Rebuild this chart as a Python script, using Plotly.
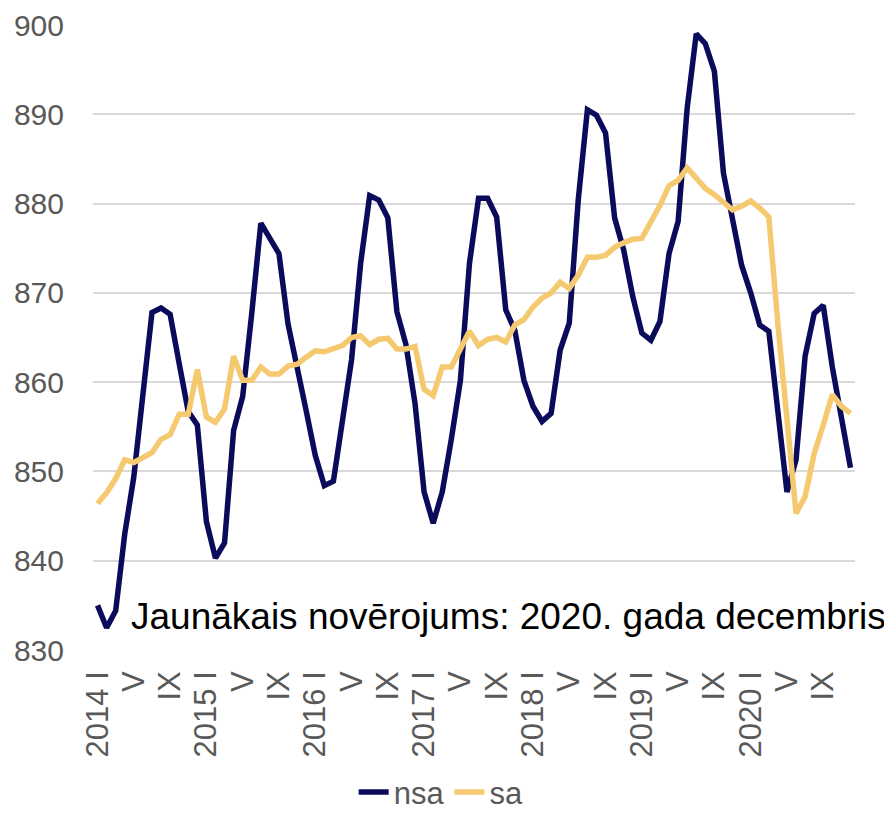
import plotly.graph_objects as go

# monthly observations, 2014 I ... 2020 XII
months = [f"{y}-{m:02d}" for y in range(2014, 2021) for m in range(1, 13)]

nsa = [835.0, 832.5, 834.4, 843.0, 849.4, 859.1, 867.8, 868.3, 867.6, 862.1, 856.7, 855.2,
       844.4, 840.3, 842.0, 854.6, 858.4, 867.7, 877.8, 876.1, 874.4, 866.5, 862.0, 856.8,
       851.8, 848.4, 848.9, 855.5, 862.5, 873.3, 880.9, 880.4, 878.4, 867.9, 864.2, 857.6,
       847.7, 844.2, 847.7, 853.6, 860.2, 873.3, 880.6, 880.6, 878.5, 868.1, 865.8, 860.2,
       857.3, 855.6, 856.5, 863.6, 866.6, 880.5, 890.5, 889.9, 887.9, 878.4, 874.8, 869.6,
       865.5, 864.7, 866.8, 874.4, 878.0, 890.7, 899.0, 897.9, 894.8, 883.4, 878.5, 873.1,
       870.0, 866.4, 865.7, 856.5, 847.7, 851.3, 862.9, 867.7, 868.6, 861.7, 855.8, 850.4]

sa = [846.4, 847.6, 849.2, 851.3, 851.0, 851.5, 852.1, 853.6, 854.1, 856.4, 856.4, 861.4,
      856.1, 855.5, 857.0, 862.9, 860.2, 860.2, 861.7, 860.9, 860.9, 861.8, 862.0, 862.8,
      863.5, 863.4, 863.8, 864.1, 865.0, 865.2, 864.2, 864.8, 864.9, 863.7, 863.7, 864.0,
      859.2, 858.5, 861.7, 861.7, 863.7, 865.7, 864.1, 864.8, 865.0, 864.5, 866.4, 867.0,
      868.4, 869.4, 870.0, 871.2, 870.5, 872.0, 874.0, 874.0, 874.2, 875.1, 875.6, 876.0,
      876.1, 877.9, 879.8, 882.0, 882.6, 884.0, 882.8, 881.7, 881.0, 880.1, 879.3, 879.7,
      880.3, 879.5, 878.5, 866.5, 855.5, 845.3, 847.2, 852.0, 855.2, 858.6, 857.3, 856.5]

tick_text = ["2014 I", "V", "IX", "2015 I", "V", "IX", "2016 I", "V", "IX",
             "2017 I", "V", "IX", "2018 I", "V", "IX", "2019 I", "V", "IX",
             "2020 I", "V", "IX"]
y_ticks = [830, 840, 850, 860, 870, 880, 890, 900]

x = list(range(len(months)))

fig = go.Figure(data=[
      go.Scatter(x=x, y=nsa, mode='lines', name='nsa',
                 line=dict(color='#0b0b5b', width=5.5)),
      go.Scatter(x=x, y=sa, mode='lines', name='sa',
                 line=dict(color='#f5c96f', width=5.5)),
])

fig.add_annotation(
      text='Jaunākais novērojums: 2020. gada decembris',
      xref='paper', yref='y', x=0.047, y=833.8,
      xanchor='left', yanchor='middle', showarrow=False,
      font=dict(size=37, color='black', family='Liberation Sans, Arial'),
)

# page body has an 8px margin, so the figure is 8px smaller than the window
fig.update_layout(
      width=884,
      height=806,
      margin=dict(l=85, r=37, t=17, b=164, autoexpand=False),
      plot_bgcolor='white',
      paper_bgcolor='white',
      font=dict(family='Liberation Sans, Arial', color='#595959', size=30),
      legend=dict(
            orientation='h',
            xref='container', yref='container',
            x=0.49, y=0.027, xanchor='center', yanchor='middle',
            font=dict(size=31, color='#595959'),
            itemwidth=30,
      ),
      xaxis=dict(
            range=[-0.5, len(months) - 0.5],
            tickvals=x[::4],
            ticktext=tick_text,
            tickangle=-90,
            showgrid=False,
            zeroline=False,
            showline=False,
            ticks='',
            automargin=False,
            ticklabelstandoff=14,
            tickfont=dict(size=31),
      ),
      yaxis=dict(
            range=[830, 900],
            tickvals=y_ticks,
            showgrid=True,
            gridcolor='#d9d9d9',
            gridwidth=1.5,
            zeroline=False,
            ticks='',
            automargin=False,
            ticklabelstandoff=28,
            tickfont=dict(size=30),
      ),
)

fig.write_html("out.html")
